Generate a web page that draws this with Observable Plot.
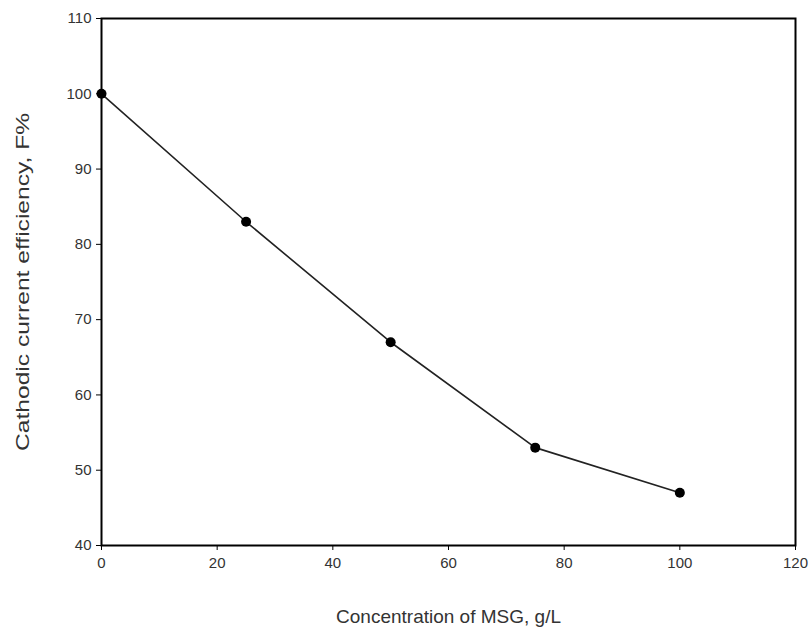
<!DOCTYPE html>
<html><head><meta charset="utf-8">
<script src="https://cdn.jsdelivr.net/npm/d3@7"></script>
<script src="https://cdn.jsdelivr.net/npm/@observablehq/plot@0.6"></script>
<style>body{margin:0;background:#fff;} svg{display:block;}</style>
</head><body><div id="chart"></div>
<script>
const concentration = [0, 25, 50, 75, 100];
const efficiency = [100, 83, 67, 53, 47];
const xTicks = [0, 20, 40, 60, 80, 100, 120];
const yTicks = [40, 50, 60, 70, 80, 90, 100, 110];
const data = concentration.map((c, i) => ({c, e: efficiency[i]}));

const chart = Plot.plot({
  width: 812, height: 630,
  marginLeft: 101, marginRight: 17, marginTop: 18, marginBottom: 85,
  style: {fontFamily: "Liberation Sans, Arial, sans-serif", fontSize: "14px", color: "#222", background: "#fff"},
  x: {domain: [0, 120], ticks: xTicks, tickSize: 5, tickPadding: 6, label: null},
  y: {domain: [40, 110], ticks: yTicks, tickSize: 5, tickPadding: 5, label: null},
  marks: [
    Plot.frame({stroke: "#000", strokeWidth: 2}),
    Plot.axisX({ticks: xTicks, tickSize: 5, tickPadding: 7, fontSize: 15, fill: "#333", stroke: "#000", label: null}),
    Plot.axisY({ticks: yTicks, tickSize: 5, tickPadding: 5, fontSize: 15, fill: "#333", stroke: "#000", label: null}),
    Plot.line(data, {x: "c", y: "e", stroke: "#222", strokeWidth: 1.6}),
    Plot.dot(data, {x: "c", y: "e", r: 5, fill: "#000", stroke: "none"}),
    Plot.text(["Concentration of MSG, g/L"], {frameAnchor: "bottom", dy: 77, fontSize: 19, fill: "#333", className: "xlab"}),
    Plot.text(["Cathodic current efficiency, F%"], {frameAnchor: "left", dx: -79, rotate: -90, textAnchor: "middle", fontSize: 19, fill: "#333", className: "ylab"})
  ]
});
document.getElementById("chart").append(chart);
d3.select(chart).selectAll(".ylab text").attr("textLength", 338).attr("lengthAdjust", "spacingAndGlyphs");
</script>
</body></html>
